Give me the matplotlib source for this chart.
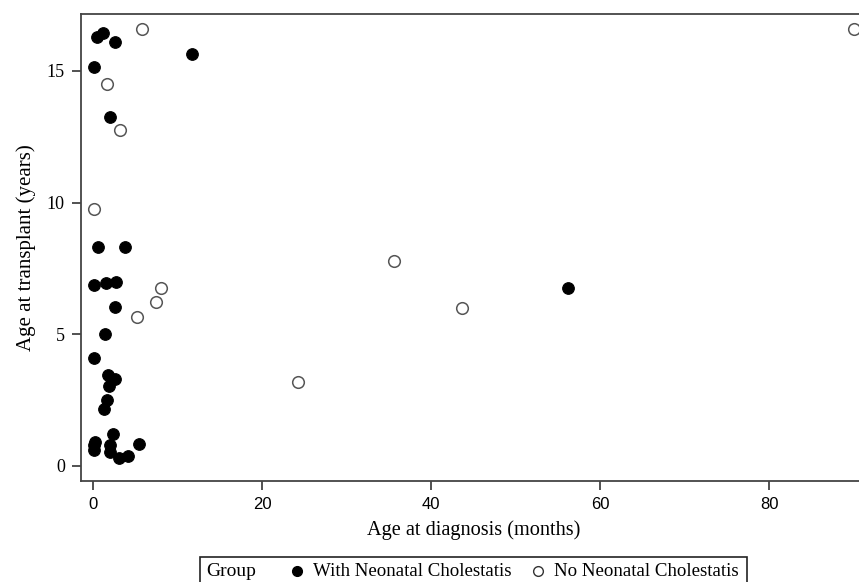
import matplotlib
matplotlib.use("Agg")
import matplotlib.pyplot as plt
from matplotlib.lines import Line2D
from matplotlib.patches import Rectangle

# data
with_x = [0.52, 1.18, 2.57, 0.12, 2.05, 11.75,
          0.59, 3.83, 0.12, 1.58, 2.76, 2.60, 1.42, 0.12,
          1.77, 2.57, 1.86, 1.62, 1.35,
          0.20, 0.12, 0.15, 2.36, 2.05, 1.97, 3.07, 4.14, 5.40,
          56.2]
with_y = [16.30, 16.45, 16.11, 15.16, 13.26, 15.64,
          8.30, 8.30, 6.87, 6.96, 7.00, 6.02, 5.00, 4.10,
          3.45, 3.29, 3.05, 2.51, 2.15,
          0.92, 0.61, 0.78, 1.21, 0.80, 0.54, 0.30, 0.38, 0.85,
          6.75]

no_x = [5.8, 1.62, 3.19, 0.16, 5.25, 7.41, 8.08, 35.55, 43.63, 24.2, 90.0]
no_y = [16.59, 14.50, 12.76, 9.77, 5.66, 6.21, 6.77, 7.80, 6.01, 3.18, 16.59]

xticks = [0, 20, 40, 60, 80]
yticks = [0, 5, 10, 15]

serif = "Liberation Serif"
sans = "Liberation Sans"

fig = plt.figure(figsize=(8.59, 5.82), dpi=100)
ax = fig.add_axes([0.094, 0.174, 0.915, 0.8014])

ax.scatter(with_x, with_y, s=70, c="black", edgecolors="black", linewidths=0.8, zorder=3)
ax.scatter(no_x, no_y, s=70, facecolors="white", edgecolors="#555555", linewidths=1.1, zorder=3)

ax.set_xlim(-1.45, 91.5)
ax.set_ylim(-0.56, 17.15)
ax.set_xticks(xticks)
ax.set_yticks(yticks)
for lab in ax.get_xticklabels():
    lab.set_fontfamily(sans)
    lab.set_fontsize(12)
for lab in ax.get_yticklabels():
    lab.set_fontfamily(serif)
    lab.set_fontsize(13)
ax.tick_params(direction="out", length=6.5, width=1.2, color="#333333", pad=5)
for sp in ax.spines.values():
    sp.set_linewidth(1.3)
    sp.set_color("#444444")

ax.set_xlabel("Age at diagnosis (months)", fontfamily=serif, fontsize=14.6, labelpad=6)
ax.set_ylabel("Age at transplant (years)", fontfamily=serif, fontsize=15, labelpad=8)

# legend box at the bottom
W, H = 859.0, 582.0
fig.patches.append(Rectangle((200 / W, -0.01), 547 / W, (H - 557) / H + 0.01,
                             transform=fig.transFigure, fill=False,
                             edgecolor="#222222", linewidth=1.2))
ly = 1 - 571 / H
fig.text(206 / W, ly, "Group", fontfamily=serif, fontsize=14, va="center", ha="left")
fig.add_artist(Line2D([297 / W], [ly], marker="o", markersize=7, color="black",
                      linestyle="none", transform=fig.transFigure))
fig.text(313 / W, ly, "With Neonatal Cholestatis", fontfamily=serif, fontsize=13.6,
         va="center", ha="left")
fig.add_artist(Line2D([538 / W], [ly], marker="o", markersize=7, markerfacecolor="white",
                      markeredgecolor="#333333", linestyle="none", transform=fig.transFigure))
fig.text(554 / W, ly, "No Neonatal Cholestatis", fontfamily=serif, fontsize=13.6,
         va="center", ha="left")

fig.savefig("out.png", dpi=100)
